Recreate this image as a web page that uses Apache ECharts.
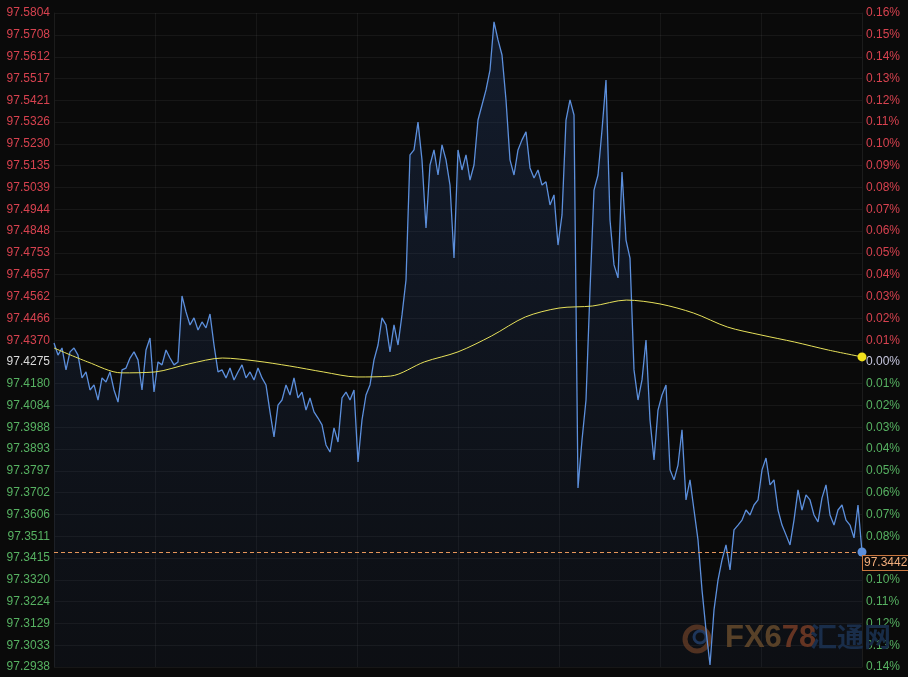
<!DOCTYPE html>
<html><head><meta charset="utf-8">
<script src="https://cdn.jsdelivr.net/npm/echarts@6/dist/echarts.min.js"></script>
<style>html,body{margin:0;padding:0;background:#0a0a0a;}#c{width:908px;height:677px;}</style>
</head><body><div id="c"></div>
<script>
// intraday price (one point per sampled minute)
const price = [
97.4358,97.4305,97.4336,97.4240,97.4319,97.4336,97.4305,97.4205,97.4231,97.4152,97.4174,97.4108,97.4205,97.4187,97.4231,97.4152,97.4099,
97.4240,97.4248,97.4292,97.4319,97.4284,97.4152,97.4327,97.4380,97.4143,97.4275,97.4262,97.4327,97.4292,97.4262,97.4275,97.4564,97.4494,97.4437,97.4468,97.4415,97.4450,97.4424,97.4485,97.4349,97.4231,
97.4240,97.4205,97.4248,97.4196,97.4231,97.4262,97.4205,97.4231,97.4196,97.4248,97.4205,97.4174,97.4056,97.3946,97.4086,97.4108,97.4174,97.4130,97.4205,97.4117,97.4143,97.4064,97.4117,97.4056,97.4029,
97.3999,97.3911,97.3880,97.3986,97.3924,97.4117,97.4143,97.4108,97.4152,97.3837,97.4021,97.4130,97.4174,97.4284,97.4349,97.4468,97.4437,97.4319,97.4437,97.4349,97.4481,97.4634,97.5182,97.5204,97.5326,
97.5160,97.4862,97.5138,97.5204,97.5094,97.5226,97.5160,97.5050,97.4730,97.5204,97.5116,97.5182,97.5072,97.5138,97.5335,97.5401,97.5467,97.5554,97.5765,97.5686,97.5620,97.5423,97.5160,97.5094,97.5204,
97.5248,97.5283,97.5125,97.5081,97.5116,97.5050,97.5064,97.4963,97.5007,97.4787,97.4919,97.5335,97.5423,97.5357,97.3723,97.3933,97.4108,97.4590,97.5028,97.5094,97.5291,97.5510,97.4897,97.4700,97.4643,
97.5107,97.4809,97.4730,97.4240,97.4108,97.4196,97.4371,97.4021,97.3845,97.4064,97.4130,97.4174,97.3802,97.3758,97.3823,97.3977,97.3670,97.3758,97.3626,97.3495,97.3276,97.3100,97.2947,97.3188,97.3319,
97.3407,97.3473,97.3363,97.3539,97.3560,97.3582,97.3626,97.3604,97.3648,97.3670,97.3802,97.3854,97.3736,97.3758,97.3626,97.3560,97.3517,97.3473,97.3582,97.3714,97.3626,97.3692,97.3670,97.3604,97.3574,
97.3679,97.3736,97.3604,97.3560,97.3626,97.3648,97.3582,97.3560,97.3504,97.3648,97.3442
];
// running average price (sampled)
const avgPrice = [
97.4336,97.4275,97.4227,97.4231,97.4266,97.4292,97.4279,97.4257,97.4231,97.4209,97.4213,97.4275,97.4319,
97.4389,97.4472,97.4511,97.4520,97.4546,97.4529,97.4489,97.4428,97.4393,97.4362,97.4327,97.4297
];
const leftTicks = ['97.2938','97.3033','97.3129','97.3224','97.3320','97.3415','97.3511','97.3606','97.3702','97.3797','97.3893','97.3988','97.4084','97.4180','97.4275','97.4370','97.4466','97.4562','97.4657','97.4753','97.4848','97.4944','97.5039','97.5135','97.5230','97.5326','97.5421','97.5517','97.5612','97.5708','97.5804'];
const rightTicks = ['0.14%','0.13%','0.12%','0.11%','0.10%','0.09%','0.08%','0.07%','0.06%','0.05%','0.04%','0.03%','0.02%','0.01%','0.00%','0.01%','0.02%','0.03%','0.04%','0.05%','0.06%','0.07%','0.08%','0.09%','0.10%','0.11%','0.12%','0.13%','0.14%','0.15%','0.16%'];
const basePrice = 97.4275;
const lastPrice = price[price.length - 1];
const lastAvg = avgPrice[avgPrice.length - 1];
const categories = price.map((_, i) => String(i));
const avgCategories = avgPrice.map((_, i) => String(i));
const tickValues = leftTicks.map(Number);

function tickIndex(v) {
  let best = 0, d = Infinity;
  tickValues.forEach((t, i) => { const dd = Math.abs(t - v); if (dd < d) { d = dd; best = i; } });
  return best;
}
const RED = '#d7424f', GREEN = '#57b262';
const FONT = 'Liberation Sans';

const chart = echarts.init(document.getElementById('c'), null, { renderer: 'canvas' });
chart.setOption({
  animation: false,
  backgroundColor: '#0a0a0a',
  grid: { left: 54, right: 46, top: 13, bottom: 10, containLabel: false },
  xAxis: [
    { type: 'category', data: categories, boundaryGap: false, show: true,
      axisLine: { show: false }, axisTick: { show: false }, axisLabel: { show: false }, splitLine: { show: false } },
    { type: 'category', data: avgCategories, boundaryGap: false, position: 'bottom',
      axisLine: { show: false }, axisTick: { show: false }, axisLabel: { show: false },
      splitLine: { show: true, interval: 2, lineStyle: { color: 'rgba(255,255,255,0.055)', width: 1 } } }
  ],
  yAxis: [
    { type: 'value', position: 'left', min: tickValues[0], max: tickValues[tickValues.length - 1], scale: true,
      axisLine: { show: true, lineStyle: { color: '#1c1c1c' } },
      axisTick: { show: false, customValues: tickValues },
      splitLine: { show: true, lineStyle: { color: 'rgba(255,255,255,0.055)', width: 1 } },
      axisLabel: { customValues: tickValues, margin: 4, fontSize: 12, fontFamily: FONT,
        formatter: v => leftTicks[tickIndex(v)],
        color: v => { const i = tickIndex(v); return tickValues[i] === basePrice ? '#dadada' : (tickValues[i] > basePrice ? RED : GREEN); } } },
    { type: 'value', position: 'right', min: tickValues[0], max: tickValues[tickValues.length - 1], scale: true,
      axisLine: { show: true, lineStyle: { color: '#1c1c1c' } },
      axisTick: { show: false, customValues: tickValues },
      splitLine: { show: false },
      axisLabel: { customValues: tickValues, margin: 4, fontSize: 12, fontFamily: FONT,
        // the tick label that sits under the last-price tag is hidden, as in the source
        formatter: v => (Math.abs(v - lastPrice) < 0.005 ? '' : rightTicks[tickIndex(v)]),
        color: v => { const i = tickIndex(v); return tickValues[i] === basePrice ? '#c6c6de' : (tickValues[i] > basePrice ? RED : GREEN); } } }
  ],
  graphic: [
    { type: 'circle', z: 1, silent: true, shape: { cx: 697, cy: 639, r: 12 },
      style: { fill: 'none', stroke: 'rgba(120,65,32,0.7)', lineWidth: 5 } },
    { type: 'circle', z: 1, silent: true, shape: { cx: 700, cy: 637, r: 6 },
      style: { fill: 'none', stroke: 'rgba(35,65,110,0.8)', lineWidth: 3 } },
    { type: 'text', z: 1, silent: true, left: 725, top: 623,
      style: { text: '{a|FX6}{b|78}', rich: {
        a: { fontSize: 31, fontWeight: 'bold', fontFamily: FONT, fill: '#5f4220' },
        b: { fontSize: 31, fontWeight: 'bold', fontFamily: FONT, fill: '#6e341a' } } } },
    { type: 'text', z: 1, silent: true, left: 810, top: 623,
      style: { text: '汇通网', fontSize: 27, fontWeight: 'bold', fontFamily: 'Noto Sans CJK SC', fill: '#182c47' } }
  ],
  series: [
    { name: 'price', type: 'line', xAxisIndex: 0, yAxisIndex: 0, data: price, showSymbol: false, z: 3,
      lineStyle: { color: '#5c8fdc', width: 1.3 },
      areaStyle: { origin: 'start', color: new echarts.graphic.LinearGradient(0, 0, 0, 1, [
        { offset: 0, color: 'rgba(42,75,135,0.40)' }, { offset: 1, color: 'rgba(35,55,95,0.16)' }]) },
      markLine: { silent: true, symbol: ['none', 'none'], label: { show: false }, z: 5,
        lineStyle: { color: '#e6965a', type: [4, 3], width: 1 },
        data: [[{ coord: [0, lastPrice] }, { coord: [price.length - 1, lastPrice] }]] },
      markPoint: { silent: true, symbol: 'circle', symbolSize: 9, itemStyle: { color: '#5c8fdc' }, z: 6,
        data: [{ coord: [price.length - 1, lastPrice] }],
        label: { show: true, position: [5.5, 8.5], formatter: lastPrice.toFixed(4), color: '#f2ae7c',
          fontSize: 12, fontFamily: FONT, borderColor: '#c9773f', borderWidth: 1, padding: [1, 1, 1, 1],
          backgroundColor: '#0d0b0a' } } },
    { name: 'avg', type: 'line', xAxisIndex: 1, yAxisIndex: 0, data: avgPrice, showSymbol: false, smooth: 0.3, z: 4,
      lineStyle: { color: '#e6e05a', width: 1 },
      markPoint: { silent: true, symbol: 'circle', symbolSize: 9, itemStyle: { color: '#f2e11c' },
        label: { show: false }, data: [{ coord: [avgPrice.length - 1, lastAvg] }] } }
  ]
});
</script></body></html>
